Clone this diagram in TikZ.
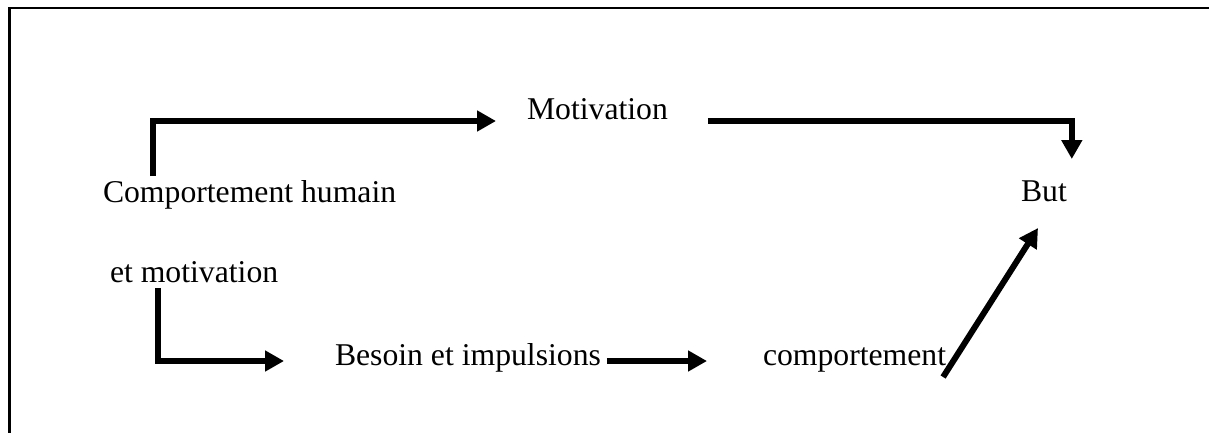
\documentclass[tikz,border=0pt]{standalone}
\usepackage{fontspec}
\setmainfont{Liberation Serif}
\usetikzlibrary{arrows.meta,calc}
\tikzset{
  lbl/.style={anchor=base west,inner sep=0pt,outer sep=0pt,font=\fontsize{31.7}{38}\selectfont},
  arr/.style={line width=6pt,line join=miter,-{Triangle[length=19pt,width=20pt]}},
  frame/.style={line width=2.6pt}
}
\begin{document}
\begin{tikzpicture}[x=1pt,y=-1pt]
\useasboundingbox (0,0) rectangle (1209,432);
\draw[frame] (9.5,433) -- (9.5,8) -- (1210,8);
\node[lbl] (ch)   at (103,202) {Comportement humain};
\node[lbl] (mot)  at (527,119) {Motivation};
\node[lbl] (but)  at (1021,201) {But};
\node[lbl] (em)   at (110,282) {et motivation};
\node[lbl] (bes)  at (335,365) {Besoin et impulsions};
\node[lbl] (comp) at (763,365) {comportement};
\draw[arr] ($(ch.base west)+(50,-26)$) |- ($(mot.base west)+(-31,2)$);
\draw[arr] ($(mot.base east)+(40,2)$) -| ($(but.base east)+(5,-42)$);
\draw[arr] ($(em.base west)+(48,6)$) |- ($(bes.base west)+(-51,-4)$);
\draw[arr] ($(bes.base east)+(6,-4)$) -- ($(comp.base west)+(-56,-4)$);
\draw[arr] ($(comp.base east)+(-3,12)$) -- ($(but.base west)+(17,27)$);
\end{tikzpicture}
\end{document}
